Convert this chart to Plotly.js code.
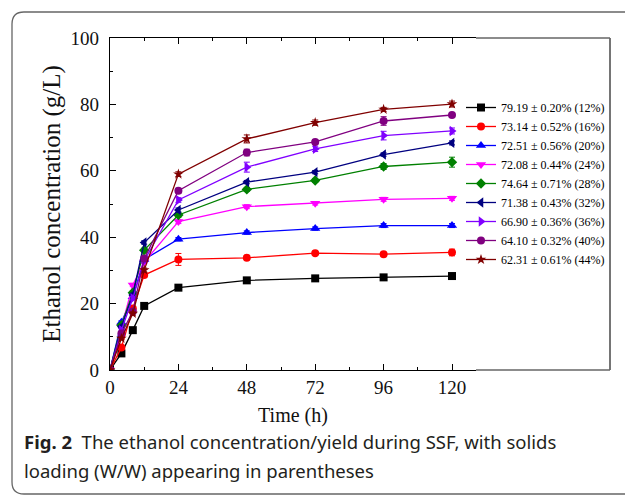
<!DOCTYPE html>
<html>
<head>
<meta charset="utf-8">
<script src="https://cdn.plot.ly/plotly-3.0.1.min.js"></script>
<style>html,body{margin:0;padding:0;background:#fff;}#chart{width:625px;height:496px;}</style>
</head>
<body>
<div id="chart"></div>
<script>
const time = [0, 4, 8, 12, 24, 48, 72, 96, 120];
const seriesNames = [
  "79.19 ± 0.20% (12%)",
  "73.14 ± 0.52% (16%)",
  "72.51 ± 0.56% (20%)",
  "72.08 ± 0.44% (24%)",
  "74.64 ± 0.71% (28%)",
  "71.38 ± 0.43% (32%)",
  "66.90 ± 0.36% (36%)",
  "64.10 ± 0.32% (40%)",
  "62.31 ± 0.61% (44%)"
];
const s12 = [0, 5.0, 12.0, 19.3, 24.8, 27.0, 27.6, 27.9, 28.3];
const s16 = [0, 6.8, 18.5, 28.6, 33.3, 33.8, 35.2, 34.9, 35.4];
const s20 = [0, 14.4, 22.1, 33.3, 39.4, 41.4, 42.6, 43.5, 43.5];
const s24 = [0, 13.0, 25.6, 32.5, 44.7, 49.2, 50.2, 51.4, 51.7];
const s28 = [0, 13.5, 23.3, 36.1, 46.7, 54.4, 57.1, 61.3, 62.6];
const s32 = [0, 13.0, 22.6, 38.4, 48.2, 56.6, 59.6, 64.9, 68.4];
const s36 = [0, 12.0, 21.6, 32.9, 51.2, 61.1, 66.6, 70.6, 72.0];
const s40 = [0, 11.0, 17.6, 33.6, 54.0, 65.5, 68.7, 75.0, 76.8];
const s44 = [0, 9.5, 17.0, 30.1, 59.0, 69.6, 74.5, 78.5, 80.1];
const e12 = [0, 0.3, 0.3, 0.3, 0.4, 0.4, 0.4, 0.4, 0.4];
const e16 = [0, 0.4, 0.5, 0.6, 1.8, 0.4, 0.5, 0.5, 1.0];
const e20 = [0, 0.4, 0.4, 0.5, 0.5, 0.5, 0.5, 0.6, 0.6];
const e24 = [0, 0.4, 0.5, 0.5, 0.6, 0.6, 0.5, 0.6, 0.6];
const e28 = [0, 0.4, 0.5, 0.6, 0.7, 0.6, 0.6, 0.9, 1.5];
const e32 = [0, 0.4, 0.5, 0.5, 0.6, 0.5, 0.5, 0.5, 0.6];
const e36 = [0, 0.4, 0.5, 0.6, 0.7, 1.5, 0.8, 1.3, 0.9];
const e40 = [0, 0.4, 0.5, 0.6, 0.7, 1.0, 0.6, 1.3, 0.6];
const e44 = [0, 0.4, 0.5, 0.6, 0.7, 1.2, 0.8, 0.6, 0.9];
const values = [s12, s16, s20, s24, s28, s32, s36, s40, s44];
const errors = [e12, e16, e20, e24, e28, e32, e36, e40, e44];
const colors = ["#000000", "#ff0000", "#0000ff", "#ff00ff", "#008000", "#000080", "#8000ff", "#800080", "#800000"];
const symbols = ["square", "circle", "triangle-up", "triangle-down", "diamond", "triangle-left", "triangle-right", "circle", "star"];
const sizes = [8, 8, 9, 9, 8, 9, 9, 8, 8];
const xTicks = [0, 24, 48, 72, 96, 120];
const xMinor = [12, 36, 60, 84, 108];
const yTicks = [0, 20, 40, 60, 80, 100];

const traces = values.map((v, i) => ({
  x: time, y: v, name: seriesNames[i], type: "scatter", mode: "lines+markers",
  line: {color: colors[i], width: 1.3},
  marker: {color: colors[i], symbol: symbols[i], size: sizes[i]},
  error_y: {type: "data", array: errors[i], visible: true, color: colors[i], thickness: 1, width: 3}
}));

const W = 500, H = 332, L = 110, T = 38;
const px = x => (x - L) / W;
const py = y => (T + H - y) / H;
const ry = 12 / H, rx = 12 / W;
const fl = px(12), ft = py(12), fb = py(494), fr = px(640);
const axEnd = 476;

const layout = {
  width: 625, height: 496,
  margin: {l: 110, r: 15, t: 38, b: 126},
  paper_bgcolor: "#ffffff", plot_bgcolor: "#ffffff",
  font: {family: "Liberation Serif, Times New Roman, serif", color: "#000"},
  showlegend: true,
  legend: {x: px(461), y: py(93), xanchor: "left", yanchor: "top", bgcolor: "rgba(0,0,0,0)",
           font: {family: "Liberation Serif, serif", size: 12, color: "#000"}, tracegroupgap: 0},
  xaxis: {
    domain: [0, px(axEnd)],
    range: [0, (axEnd - L) / 2.85], tickmode: "array", tickvals: xTicks, ticktext: xTicks.map(String),
    ticks: "inside", ticklen: 6, tickwidth: 1, tickcolor: "#000",
    minor: {tickmode: "array", tickvals: xMinor, ticks: "inside", ticklen: 3, tickcolor: "#000"},
    showline: true, linecolor: "#000", linewidth: 1.2, mirror: "ticks",
    showgrid: false, zeroline: false,
    tickfont: {family: "Liberation Serif, serif", size: 19, color: "#111"},
    title: {text: "Time (h)", font: {family: "Liberation Serif, serif", size: 20, color: "#111"}, standoff: 11}
  },
  yaxis: {
    range: [0, 100], tickmode: "array", tickvals: yTicks, ticktext: yTicks.map(String),
    ticks: "inside", ticklen: 6, tickwidth: 1, tickcolor: "#000",
    minor: {dtick: 10, tick0: 0, ticks: "inside", ticklen: 3, tickcolor: "#000"},
    showline: true, linecolor: "#000", linewidth: 1.2, mirror: false,
    showgrid: false, zeroline: false, ticklabelstandoff: 6,
    tickfont: {family: "Liberation Serif, serif", size: 19, color: "#111"},
    title: {text: "Ethanol concentration (g/L)", font: {family: "Liberation Serif, serif", size: 25, color: "#111"}, standoff: 2}
  },
  shapes: [
    {type: "line", xref: "paper", yref: "paper", x0: px(axEnd), x1: px(610), y0: 1, y1: 1, line: {color: "#666", width: 1.5}},
    {type: "line", xref: "paper", yref: "paper", x0: px(axEnd), x1: px(610), y0: 0, y1: 0, line: {color: "#666", width: 1.5}},
    {type: "line", xref: "paper", yref: "paper", x0: px(610), x1: px(610), y0: 0, y1: 1, line: {color: "#666", width: 1.8}},
    {type: "path", xref: "paper", yref: "paper", layer: "below",
     path: `M ${fr},${ft} L ${fl + rx},${ft} Q ${fl},${ft} ${fl},${ft - ry} L ${fl},${fb + ry} Q ${fl},${fb} ${fl + rx},${fb} L ${fr},${fb}`,
     line: {color: "#666", width: 1.3}}
  ],
  annotations: [
    {xref: "paper", yref: "paper", x: px(22), y: py(441), xanchor: "left", yanchor: "middle", showarrow: false,
     text: "<b>Fig. 2</b>  The ethanol concentration/yield during SSF, with solids",
     font: {family: "Noto Sans, Open Sans, sans-serif", size: 18.5, color: "#231f20"}},
    {xref: "paper", yref: "paper", x: px(22), y: py(470), xanchor: "left", yanchor: "middle", showarrow: false,
     text: "loading (W/W) appearing in parentheses",
     font: {family: "Noto Sans, Open Sans, sans-serif", size: 18.5, color: "#231f20"}}
  ]
};

Plotly.newPlot("chart", traces, layout, {displayModeBar: false, staticPlot: true});
</script>
</body>
</html>
